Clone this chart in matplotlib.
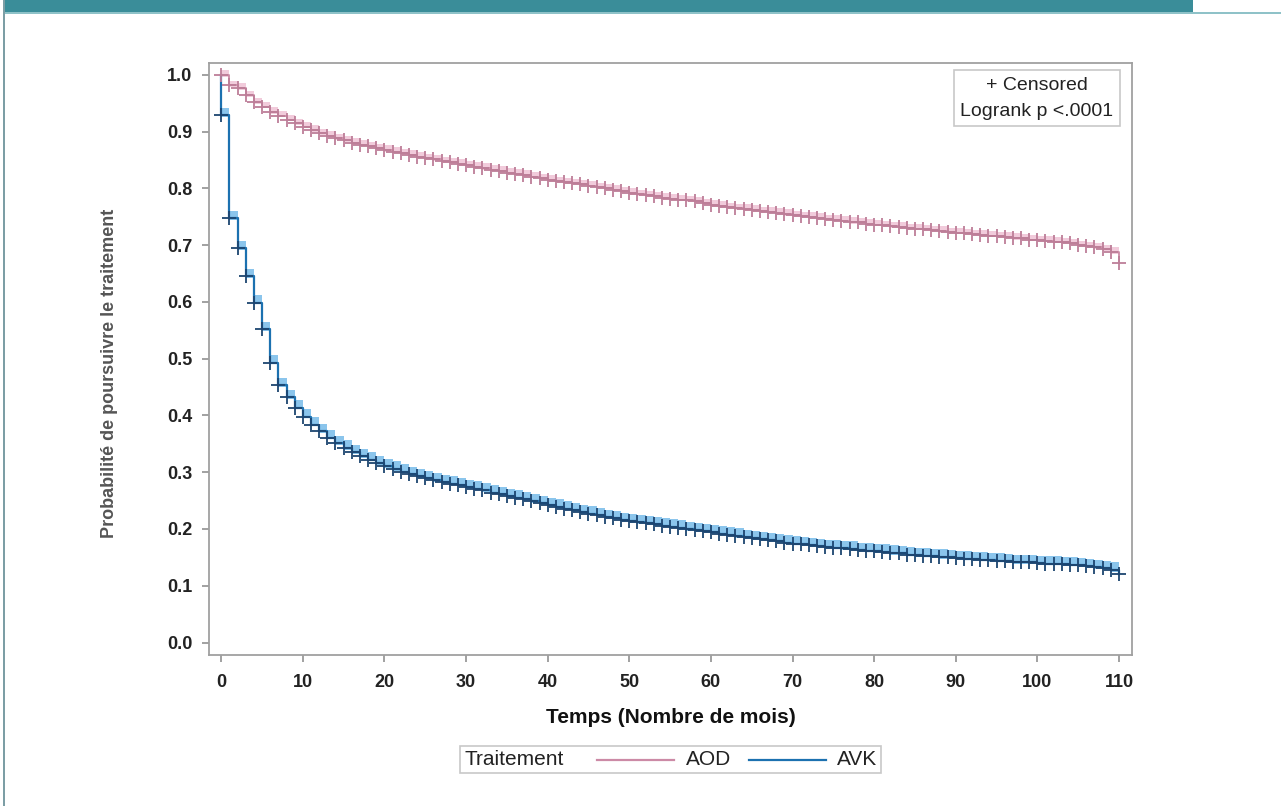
import matplotlib
matplotlib.use("Agg")
import matplotlib.pyplot as plt
from matplotlib.patches import Rectangle
from matplotlib.lines import Line2D
from matplotlib.offsetbox import AnchoredOffsetbox, HPacker, TextArea, DrawingArea
import numpy as np

# ---------------- data ----------------
months = list(range(0, 111))

aod_surv = [
    1.000, 0.982, 0.977, 0.964, 0.952, 0.944, 0.935, 0.928, 0.921, 0.915,
    0.909, 0.903, 0.897, 0.893, 0.888, 0.885, 0.880, 0.877, 0.874, 0.871,
    0.868, 0.865, 0.862, 0.859, 0.856, 0.853, 0.851, 0.848, 0.846, 0.843,
    0.841, 0.838, 0.836, 0.833, 0.831, 0.828, 0.826, 0.824, 0.821, 0.818,
    0.815, 0.813, 0.811, 0.809, 0.807, 0.805, 0.802, 0.800, 0.798, 0.795,
    0.792, 0.790, 0.788, 0.786, 0.784, 0.782, 0.780, 0.779, 0.777, 0.774,
    0.771, 0.769, 0.767, 0.765, 0.764, 0.762, 0.760, 0.759, 0.757, 0.755,
    0.753, 0.751, 0.750, 0.748, 0.746, 0.745, 0.743, 0.741, 0.740, 0.738,
    0.736, 0.735, 0.733, 0.732, 0.730, 0.729, 0.728, 0.726, 0.725, 0.723,
    0.722, 0.721, 0.719, 0.718, 0.717, 0.716, 0.715, 0.713, 0.712, 0.710,
    0.709, 0.708, 0.706, 0.705, 0.703, 0.700, 0.698, 0.696, 0.693, 0.688,
    0.669,
]

avk_surv = [
    0.929, 0.748, 0.695, 0.645, 0.599, 0.552, 0.493, 0.453, 0.432, 0.414,
    0.398, 0.384, 0.372, 0.361, 0.351, 0.343, 0.335, 0.328, 0.322, 0.316,
    0.311, 0.306, 0.301, 0.297, 0.293, 0.289, 0.286, 0.283, 0.280, 0.277,
    0.274, 0.271, 0.268, 0.264, 0.261, 0.258, 0.255, 0.252, 0.249, 0.245,
    0.242, 0.239, 0.236, 0.233, 0.230, 0.227, 0.224, 0.221, 0.219, 0.216,
    0.214, 0.212, 0.210, 0.208, 0.206, 0.204, 0.202, 0.200, 0.198, 0.196,
    0.194, 0.192, 0.190, 0.188, 0.186, 0.184, 0.182, 0.180, 0.178, 0.176,
    0.174, 0.173, 0.171, 0.170, 0.168, 0.167, 0.166, 0.165, 0.163, 0.162,
    0.161, 0.160, 0.158, 0.157, 0.155, 0.154, 0.153, 0.152, 0.151, 0.150,
    0.149, 0.148, 0.147, 0.146, 0.145, 0.144, 0.143, 0.142, 0.141, 0.141,
    0.140, 0.139, 0.139, 0.138, 0.137, 0.136, 0.134, 0.133, 0.131, 0.128,
    0.120,
]

# confidence band offsets (upper, lower)
aod_ci = (0.008, 0.003)
avk_ci = (0.013, 0.003)

x_ticks = list(range(0, 111, 10))
y_ticks = [0.0, 0.1, 0.2, 0.3, 0.4, 0.5, 0.6, 0.7, 0.8, 0.9, 1.0]
groups = ["AOD", "AVK"]

# ---------------- style ----------------
W, H = 1281, 806
DPI = 100
PT = 72.0 / DPI  # points per pixel
plt.rcParams['font.family'] = ['Liberation Sans', 'DejaVu Sans']

AOD_LINE = '#cc8aa6'
AOD_MARK = '#bd7e98'
AOD_BAND = '#f0c6d7'
AVK_LINE = '#1c71b0'
AVK_MARK = '#1d4570'
AVK_BAND = '#7fbfea'

fig = plt.figure(figsize=(W / DPI, H / DPI), dpi=DPI)
fig.patch.set_facecolor('white')

# page decorations: teal header bar, light rule and left border
def px_rect(x0, y0, x1, y1, color):
    fig.patches.append(Rectangle((x0 / W, 1 - y1 / H), (x1 - x0) / W, (y1 - y0) / H,
                                 transform=fig.transFigure, facecolor=color,
                                 edgecolor='none', zorder=0))

px_rect(4, 0, 1193, 12, '#3a8d99')
px_rect(4, 12, 1281, 14, '#8fc2c8')
px_rect(3, 0, 5, 806, '#7c9ea5')

ax = fig.add_axes([209 / W, 1 - 655 / H, (1132 - 209) / W, (655 - 63) / H])

def draw_group(surv, ci, line_c, mark_c, band_c, label, lw):
    xs = np.array([0] + months, dtype=float)
    ys = np.array([1.0] + surv)
    ax.fill_between(xs, ys - ci[1], ys + ci[0], step='post', color=band_c,
                    lw=0, alpha=0.9, zorder=1)
    line, = ax.step(xs, ys, where='post', color=line_c, lw=lw, zorder=3, label=label)
    ax.plot(months, surv, ls='none', marker='+', ms=10, mew=1.3, color=mark_c, zorder=4)
    return line

l_aod = draw_group(aod_surv, aod_ci, AOD_LINE, AOD_MARK, AOD_BAND, groups[0], 1.3)
l_avk = draw_group(avk_surv, avk_ci, AVK_LINE, AVK_MARK, AVK_BAND, groups[1], 1.6)

ax.set_xlim(-1.5, 111.6)
ax.set_ylim(-0.022, 1.021)
ax.set_xticks(x_ticks)
ax.set_yticks(y_ticks)
ax.set_yticklabels([f"{v:.1f}" for v in y_ticks])
ax.tick_params(axis='both', direction='out', length=5, width=1.1, color='#888888',
               labelsize=13, labelcolor='#222222')
ax.tick_params(axis='x', pad=9)
ax.tick_params(axis='y', pad=7)
for lab in ax.get_xticklabels() + ax.get_yticklabels():
    lab.set_fontweight('bold')
for sp in ax.spines.values():
    sp.set_color('#a0a0a0')
    sp.set_linewidth(1.3)

ax.set_xlabel("Temps (Nombre de mois)", fontsize=15, fontweight='bold',
              color='#111111', labelpad=12)
ax.set_ylabel("Probabilité de poursuivre le traitement", fontsize=13,
              fontweight='bold', color='#555555')
ax.yaxis.set_label_coords(-0.099, 0.475)

# inset box
ax.text(0.897, 0.976, "+ Censored\nLogrank p <.0001", transform=ax.transAxes,
        ha='center', va='top', fontsize=14, color='#222222', linespacing=1.65,
        bbox=dict(boxstyle='square,pad=0.35', facecolor='white', edgecolor='#c8c8c8', lw=1.2))

# bottom legend: "Traitement  —— AOD  —— AVK"
def spacer(px):
    return DrawingArea(px * PT, 10, 0, 0)

def line_handle(color, px=77):
    w = px * PT
    da = DrawingArea(w, 10, 0, 0)
    da.add_artist(Line2D([0, w], [5, 5], color=color, lw=1.6))
    return da

fs = 15
tp = dict(fontsize=fs, color='#222222')
items = [
    TextArea("Traitement", textprops=tp),
    spacer(34),
    line_handle(AOD_LINE),
    spacer(12),
    TextArea("AOD", textprops=tp),
    spacer(17),
    line_handle(AVK_LINE),
    spacer(11),
    TextArea("AVK", textprops=tp),
]
box = HPacker(children=items, align='center', pad=0, sep=0)
anch = AnchoredOffsetbox(loc='center', child=box, pad=0.3, borderpad=0,
                         bbox_to_anchor=(0.5, -0.177), bbox_transform=ax.transAxes,
                         frameon=True)
anch.patch.set_edgecolor('#c8c8c8')
anch.patch.set_linewidth(1.2)
ax.add_artist(anch)

fig.savefig("out.png", dpi=DPI)
